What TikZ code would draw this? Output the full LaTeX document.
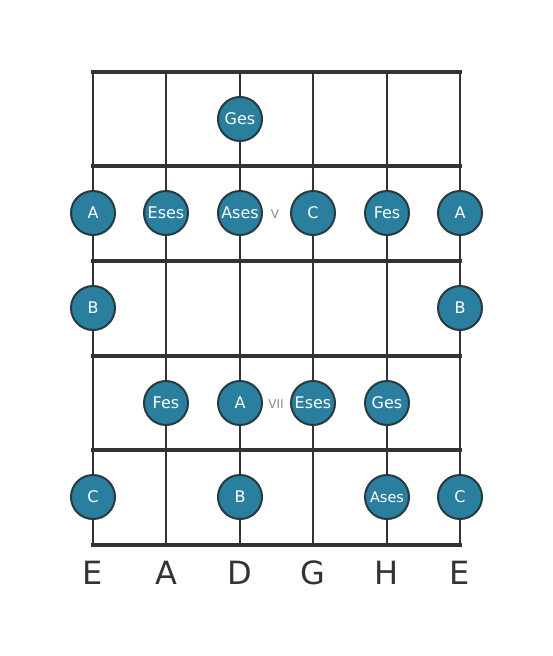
\documentclass[tikz,border=0pt]{standalone}
\usepackage{fontspec}
\setmainfont{DejaVu Sans}
\definecolor{linec}{HTML}{333333}
\definecolor{notefill}{HTML}{2A7F9E}
\definecolor{notedraw}{HTML}{263A40}
\definecolor{fretlbl}{HTML}{8A8A8A}
\begin{document}
\begin{tikzpicture}[x=1pt,y=-1pt,
  fretline/.style={line width=4.2pt,draw=linec},
  stringline/.style={line width=2.4pt,draw=linec},
  note/.style={circle,fill=notefill,draw=notedraw,line width=2pt,minimum size=44pt,inner sep=0pt,text=white,font=\fontsize{16}{16}\selectfont},
  smallnote/.style={note,font=\fontsize{14.5}{14.5}\selectfont},
  fretnum/.style={text=fretlbl,font=\fontsize{12}{12}\selectfont},
  strlbl/.style={text=linec,font=\fontsize{32}{32}\selectfont}]
\useasboundingbox[fill=white] (0,0) rectangle (553,656);
% strings
\foreach \x [count=\i] in {93,166,240,313,387,460}{
  \coordinate (st\i) at (\x,72);
  \coordinate (sb\i) at (\x,545);
  \draw[stringline] (st\i) -- (sb\i);
}
% frets
\foreach \y [count=\j] in {72,166,261,356,450,545}{
  \coordinate (fl\j) at (93,\y);
  \coordinate (fr\j) at (460,\y);
  \draw[fretline,line cap=rect] (fl\j) -- (fr\j);
}
% notes
\node[note] (n1) at (240,119) {Ges};
\node[note] (n2a) at (93,213) {A};
\node[note] (n2b) at (166,213) {Eses};
\node[note] (n2c) at (240,213) {Ases};
\node[note] (n2d) at (313,213) {C};
\node[note] (n2e) at (387,213) {Fes};
\node[note] (n2f) at (460,213) {A};
\node[fretnum] (v5) at (275,214) {V};
\node[note] (n3a) at (93,308) {B};
\node[note] (n3b) at (460,308) {B};
\node[note] (n4a) at (166,403) {Fes};
\node[note] (n4b) at (240,403) {A};
\node[note] (n4c) at (313,403) {Eses};
\node[note] (n4d) at (387,403) {Ges};
\node[fretnum] (v7) at (276,404) {VII};
\node[note] (n5a) at (93,497) {C};
\node[note] (n5b) at (240,497) {B};
\node[smallnote] (n5c) at (387,497) {Ases};
\node[note] (n5d) at (460,497) {C};
% string labels
\foreach \x/\t [count=\i] in {93/E,166/A,240/D,313/G,387/H,460/E}{
  \node[strlbl] (l\i) at (\x,573) {\t};
}
\end{tikzpicture}
\end{document}
